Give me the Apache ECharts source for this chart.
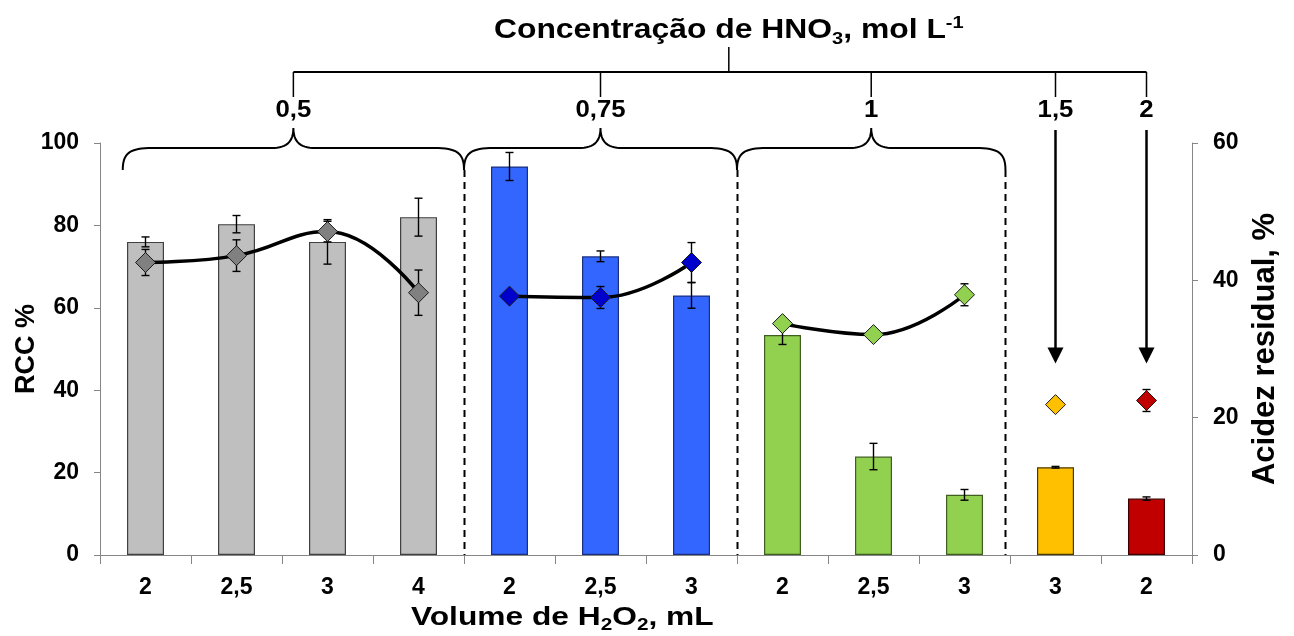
<!DOCTYPE html>
<html>
<head>
<meta charset="utf-8">
<script src="https://cdn.jsdelivr.net/npm/echarts@6/dist/echarts.min.js"></script>
<style>
  html, body { margin: 0; padding: 0; background: #fff; }
  #chart { width: 1294px; height: 636px; }
</style>
</head>
<body>
<div id="chart"></div>
<script>
// H2O2 volume (mL) for each experiment, grouped by HNO3 concentration
const categories = ['2', '2,5', '3', '4', '2', '2,5', '3', '2', '2,5', '3', '3', '2'];
// which HNO3 concentration group each experiment belongs to
const groupOfCategory = [0, 0, 0, 0, 1, 1, 1, 2, 2, 2, 3, 4];
const concentrationLabels = ['0,5', '0,75', '1', '1,5', '2'];

// RCC % (bars, left axis) with standard deviations
const rccValues = [76.0, 80.3, 76.0, 82.0, 94.3, 72.5, 63.0, 53.4, 23.9, 14.6, 21.3, 13.7];
const rccErrors = [1.2, 2.1, 5.4, 4.6, 3.4, 1.3, 3.1, 2.3, 3.2, 1.3, 0.2, 0.4];

// residual acidity % (diamonds, right axis) with standard deviations
const acidValues = [42.6, 43.6, 47.1, 38.2, 37.7, 37.5, 42.6, 33.7, 32.1, 37.9, 21.9, 22.5];
const acidErrors = [1.9, 2.3, 1.5, 3.3, 0.4, 1.6, 2.9, 0.5, 0.3, 1.6, 0.3, 1.6];

const leftTicks = [0, 20, 40, 60, 80, 100];
const rightTicks = [0, 20, 40, 60];

// colours per concentration group
const barColors = ['#BFBFBF', '#3366FF', '#92D050', '#FFC000', '#C00000'];
const barBorders = ['#404040', '#1a2f80', '#3f5f20', '#4a3a00', '#400000'];
const diamondColors = ['#808080', '#0000CC', '#92D050', '#FFC000', '#C00000'];

const FONT = 'Arial, "Liberation Sans", Helvetica, sans-serif';

const chart = echarts.init(document.getElementById('chart'), null, { renderer: 'canvas' });

function errorBarRenderer(params, api) {
  const x = api.value(0);
  const v = api.value(1);
  const e = api.value(2);
  const top = api.coord([x, v + e]);
  const bot = api.coord([x, v - e]);
  const half = 4;
  const st = { stroke: '#000', lineWidth: 1.4 };
  return {
    type: 'group',
    children: [
      { type: 'line', shape: { x1: top[0], y1: top[1], x2: bot[0], y2: bot[1] }, style: st },
      { type: 'line', shape: { x1: top[0] - half, y1: top[1], x2: top[0] + half, y2: top[1] }, style: st },
      { type: 'line', shape: { x1: bot[0] - half, y1: bot[1], x2: bot[0] + half, y2: bot[1] }, style: st }
    ]
  };
}

// one smooth trend line per concentration group (only groups with several points)
const lineSeries = [];
for (let g = 0; g < concentrationLabels.length; g++) {
  const count = groupOfCategory.filter(gg => gg === g).length;
  if (count < 2) continue;
  lineSeries.push({
    type: 'line',
    yAxisIndex: 1,
    smooth: 0.45,
    symbol: 'none',
    connectNulls: false,
    lineStyle: { color: '#000', width: 3.5 },
    z: 4,
    silent: true,
    data: acidValues.map((v, i) => (groupOfCategory[i] === g ? v : null))
  });
}

const axisLabelStyle = { color: '#000', fontFamily: FONT, fontWeight: 'bold', fontSize: 23 };

chart.setOption({
  animation: false,
  grid: { left: 100, right: 102, top: 143, bottom: 81, outerBoundsMode: 'none', containLabel: false },
  xAxis: {
    type: 'category',
    data: categories,
    axisLine: { lineStyle: { color: '#868686', width: 1 } },
    axisTick: { show: true, length: 9, interval: 0, lineStyle: { color: '#868686' } },
    axisLabel: Object.assign({ interval: 0, margin: 21 }, axisLabelStyle)
  },
  yAxis: [
    {
      type: 'value', min: leftTicks[0], max: leftTicks[leftTicks.length - 1], interval: 20,
      axisLine: { show: true, lineStyle: { color: '#868686' } },
      axisTick: { show: true, length: 6, lineStyle: { color: '#868686' } },
      splitLine: { show: false },
      axisLabel: Object.assign({ margin: 21 }, axisLabelStyle),
      name: 'RCC %',
      nameLocation: 'middle',
      nameGap: 60,
      nameMoveOverlap: false,
      nameTextStyle: { color: '#000', fontFamily: FONT, fontWeight: 'bold', fontSize: 27 }
    },
    {
      type: 'value', min: rightTicks[0], max: rightTicks[rightTicks.length - 1], interval: 20,
      position: 'right',
      axisLine: { show: true, lineStyle: { color: '#868686' } },
      axisTick: { show: true, length: 6, lineStyle: { color: '#868686' } },
      splitLine: { show: false },
      axisLabel: Object.assign({ margin: 21 }, axisLabelStyle),
      name: 'Acidez residual, %',
      nameLocation: 'middle',
      nameGap: 58,
      nameTextStyle: { color: '#000', fontFamily: FONT, fontWeight: 'bold', fontSize: 31 }
    }
  ],
  series: [
    {
      type: 'bar',
      yAxisIndex: 0,
      barWidth: 37,
      z: 2,
      data: rccValues.map((v, i) => ({
        value: v,
        itemStyle: { color: barColors[groupOfCategory[i]], borderColor: barBorders[groupOfCategory[i]], borderWidth: 1.2 }
      }))
    },
    {
      type: 'custom',
      yAxisIndex: 0,
      z: 3,
      renderItem: errorBarRenderer,
      data: rccValues.map((v, i) => [i, v, rccErrors[i]])
    },
    ...lineSeries,
    {
      type: 'custom',
      yAxisIndex: 1,
      z: 5,
      renderItem: errorBarRenderer,
      data: acidValues.map((v, i) => [i, v, acidErrors[i]])
    },
    {
      type: 'scatter',
      yAxisIndex: 1,
      symbol: 'diamond',
      symbolSize: 20,
      z: 6,
      data: acidValues.map((v, i) => ({
        value: [i, v],
        itemStyle: { color: diamondColors[groupOfCategory[i]], borderColor: '#1a1a1a', borderWidth: 1, opacity: 1 }
      }))
    }
  ]
});

// ---- annotations: concentration braces, arrows and titles ----
const c0 = chart.convertToPixel({ xAxisIndex: 0 }, 0);
const c1 = chart.convertToPixel({ xAxisIndex: 0 }, 1);
const px = t => c0 + t * (c1 - c0);
const yTop = chart.convertToPixel({ yAxisIndex: 0 }, 100);
const yZero = chart.convertToPixel({ yAxisIndex: 0 }, 0);

function cubic(p0, p1, p2, p3, n) {
  const pts = [];
  for (let k = 0; k <= n; k++) {
    const t = k / n, u = 1 - t;
    pts.push([
      u * u * u * p0[0] + 3 * u * u * t * p1[0] + 3 * u * t * t * p2[0] + t * t * t * p3[0],
      u * u * u * p0[1] + 3 * u * u * t * p1[1] + 3 * u * t * t * p2[1] + t * t * t * p3[1]
    ]);
  }
  return pts;
}

const yEnd = yTop + 27, yFlat = yTop + 5, yTip = yTop - 15;
function bracePoints(xa, xb) {
  const xt = (xa + xb) / 2;
  return [].concat(
    cubic([xa, yEnd], [xa, yFlat + 5], [xa + 7, yFlat], [xa + 30, yFlat], 16),
    cubic([xt - 22, yFlat], [xt - 8, yFlat], [xt, yFlat - 5], [xt, yTip], 14),
    cubic([xt, yTip], [xt, yFlat - 5], [xt + 8, yFlat], [xt + 22, yFlat], 14),
    cubic([xb - 30, yFlat], [xb - 7, yFlat], [xb, yFlat + 5], [xb, yEnd], 16)
  );
}

// brace spans in category units for the three multi-experiment groups
const braceSpans = [[-0.25, 3.5], [3.5, 6.5], [6.5, 9.45]];
const dividers = [3.5, 6.5, 9.45];
const arrowCats = [10, 11];

const dropX = braceSpans.map(s => (px(s[0]) + px(s[1])) / 2).concat(arrowCats.map(px));
const yBar = yTop - 71, yStem = yTop - 96, yDrop = yTop - 46, yLabel = yTop - 32;

const graphics = [];
const blk = { stroke: '#000', lineWidth: 2, fill: null };

braceSpans.forEach(s => {
  graphics.push({ type: 'polyline', shape: { points: bracePoints(px(s[0]), px(s[1])) }, style: blk, z: 10 });
});

dividers.forEach(d => {
  const x = Math.round(px(d)) + 0.5;
  graphics.push({
    type: 'line', shape: { x1: x, y1: yEnd, x2: x, y2: yZero },
    style: { stroke: '#000', lineWidth: 2, lineDash: [7, 5] }, z: 10
  });
});

// arrows pointing down onto the single-experiment groups
const yArrowEnd = chart.convertToPixel({ yAxisIndex: 0 }, 46.5);
arrowCats.forEach(c => {
  const x = px(c);
  graphics.push({ type: 'line', shape: { x1: x, y1: yTop - 13, x2: x, y2: yArrowEnd - 14 }, style: { stroke: '#000', lineWidth: 2.5 }, z: 10 });
  graphics.push({
    type: 'polygon', shape: { points: [[x - 8, yArrowEnd - 16], [x + 8, yArrowEnd - 16], [x, yArrowEnd]] },
    style: { fill: '#000' }, z: 10
  });
});

// bracket joining the concentration labels
graphics.push({ type: 'line', shape: { x1: dropX[0], y1: yBar, x2: dropX[dropX.length - 1], y2: yBar }, style: blk, z: 10 });
const stemX = px(6.41);
graphics.push({ type: 'line', shape: { x1: stemX, y1: yStem, x2: stemX, y2: yBar }, style: { stroke: '#000', lineWidth: 1.5 }, z: 10 });
dropX.forEach((x, i) => {
  graphics.push({ type: 'line', shape: { x1: x, y1: yBar, x2: x, y2: yDrop }, style: { stroke: '#000', lineWidth: 1.5 }, z: 10 });
  graphics.push({
    type: 'text', x: x, y: yLabel, z: 10, scaleX: 1.12,
    style: { text: concentrationLabels[i], fill: '#000', font: 'bold 23px ' + FONT, textAlign: 'center', textVerticalAlign: 'middle' }
  });
});

const richSubSup = {
  sub: { fontFamily: FONT, fontWeight: 'bold', fontSize: 17, lineHeight: 17, verticalAlign: 'bottom', fill: '#000' },
  sup: { fontFamily: FONT, fontWeight: 'bold', fontSize: 17, lineHeight: 17, verticalAlign: 'top', fill: '#000' }
};

graphics.push({
  type: 'text', x: stemX, y: yTop - 112, z: 10, scaleX: 1.18,
  style: {
    text: 'Concentração de HNO{sub|3}, mol L{sup|-1}',
    fill: '#000', fontFamily: FONT, fontWeight: 'bold', fontSize: 27, lineHeight: 33,
    textAlign: 'center', textVerticalAlign: 'middle',
    rich: richSubSup
  }
});

// horizontal axis title
graphics.push({
  type: 'text', x: px(4.58), y: yZero + 63, z: 10, scaleX: 1.22,
  style: {
    text: 'Volume de H{sub|2}O{sub|2}, mL',
    fill: '#000', fontFamily: FONT, fontWeight: 'bold', fontSize: 26, lineHeight: 32,
    textAlign: 'center', textVerticalAlign: 'middle',
    rich: richSubSup
  }
});

chart.setOption({ graphic: { elements: graphics } });
</script>
</body>
</html>
